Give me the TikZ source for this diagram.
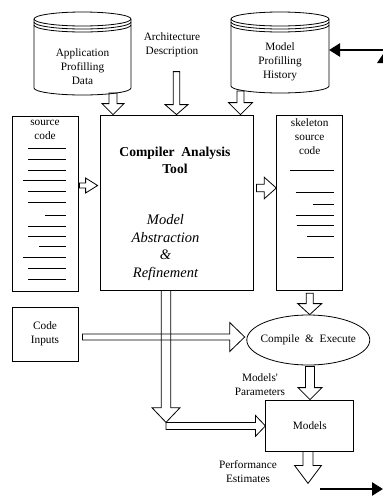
\documentclass[tikz,border=0pt]{standalone}
\usepackage{fontspec}
\setmainfont{Liberation Serif}
\usetikzlibrary{calc,positioning,shapes.geometric,arrows.meta}

\tikzset{
  box/.style={draw, line width=0.8pt, inner sep=0pt},
  txt/.style={font=\fontsize{11.3}{14}\selectfont, align=center, inner sep=0.75pt},
  codeline/.style={line width=0.8pt},
  blockarrow/.style={line width=0.8pt},
  fatarrow/.style={line width=2.5pt, -{Triangle[length=11pt,width=13pt]}},
}

% database drum round a text node: #1 node, #2 up to top, #3 down to bottom, #4 x radius
\newcommand{\dbshape}[4]{%
  \draw[line width=0.8pt] ($(#1.center)+(0,7-#2)$) ellipse [x radius=#4, y radius=7];
  \draw[line width=0.8pt] ($(#1.center)+(-#4,7-#2)$) -- ($(#1.center)+(-#4,#3-7)$)
    arc [start angle=180, end angle=0, x radius=#4, y radius=7]
    -- ($(#1.center)+(#4,7-#2)$);
  \foreach \k in {10,13}
    \draw[line width=0.8pt] ($(#1.center)+(#4,\k-#2)$) arc [start angle=0, end angle=180, x radius=#4, y radius=7];
}
% hollow block arrows: #1 from, #2 tip, #3 half shaft, #4 half head, #5 head length
\newcommand{\downblock}[5]{%
  \draw[blockarrow] ($(#1)+(-#3,0)$) |- ($(#2)+(-#4,-#5)$) -- (#2) -- ($(#2)+(#4,-#5)$) -| ($(#1)+(#3,0)$) -- cycle;
}
\newcommand{\rightblock}[5]{%
  \draw[blockarrow] ($(#1)+(0,-#3)$) -| ($(#2)+(-#5,-#4)$) -- (#2) -- ($(#2)+(-#5,#4)$) |- ($(#1)+(0,#3)$) -- cycle;
}

\begin{document}
\begin{tikzpicture}[x=1pt,y=1pt,yscale=-1]
  \useasboundingbox (0,0) rectangle (383,496);

  %Shape: Databases
  \node[txt] (appdb) at (82.5,67) {Application\\Profilling\\Data};
  \dbshape{appdb}{55}{28}{48.5}
  \node[txt] (histdb) at (280,62) {Model\\Profilling\\History};
  \dbshape{histdb}{50}{31}{49}
  % Text Node
  \node[txt] (archdesc) at (172,44.5) {Architecture\\Description};

  %Shape: Rectangles
  \node[box, minimum width=153pt, minimum height=175pt] (tool) at (176.5,202.5) {};
  \node[txt, font=\fontsize{13.6}{17}\selectfont\bfseries] (tooltitle) at (175,160.5) {Compiler~ Analysis\\Tool};
  \node[txt, font=\fontsize{14.5}{17.7}\selectfont\itshape] (toolnote) at (165.5,247.5) {Model\\Abstraction\\\&\\Refinement};

  \node[box, minimum width=66pt, minimum height=175pt] (srcbox) at (45,203.5) {};
  \node[txt, below=4pt of srcbox.north] (srctitle) {source\\code};
  \node[box, minimum width=66pt, minimum height=175pt] (skel) at (309.7,203.3) {};
  \node[txt, below=2pt of skel.north] (skeltitle) {skeleton\\source\\code};

  \node[box, txt, minimum width=66pt, minimum height=54pt] (codein) at (45,334) {Code\\Inputs};
  \node[box, txt, ellipse, minimum width=123pt, minimum height=50pt] (cexec) at (308.3,340) {\makebox[0pt]{Compile~~\&~~Execute}};
  \node[box, txt, minimum width=88pt, minimum height=51pt] (models) at (309.8,425.5) {Models};

  % Text Node
  \node[txt] (modparam) at (260,385) {Models\textquotesingle\\Parameters};
  \node[txt] (perfest) at (248,471.5) {Performance\\Estimates};

  %Straight Lines: code
  \foreach \ya/\xa in {148.3/28, 159.3/28, 170.3/28, 180.7/22.7, 191.7/28, 202.7/28, 215/45,
                       226/28, 236/28, 246.7/39, 257.7/22.7, 268.7/28, 279.3/28}
    \draw[codeline] (\xa,\ya) -- (66,\ya);
  \foreach \ya/\xa in {170/290, 192/295.7, 204/312.7, 215.3/295.7, 225.3/296.7, 236/307, 257.7/296.7}
    \draw[codeline] (\xa,\ya) -- (333.5,\ya);

  %Block arrows
  \coordinate (appout) at ($(appdb.center)+(30.5,26)$);
  \coordinate (appin) at (appout |- tool.north);
  \downblock{appout}{appin}{4}{11}{11}
  \coordinate (archout) at ($(tool.north)+(0,-43)$);
  \downblock{archout}{tool.north}{3.3}{11.5}{10}
  \coordinate (histout) at ($(histdb.center)+(-39.5,29)$);
  \coordinate (histin) at (histout |- tool.north);
  \downblock{histout}{histin}{3.5}{12}{12}

  \coordinate (srcout) at ($(srcbox.east)+(1,-18)$);
  \coordinate (srcin) at ($(tool.west)+(-2,-17)$);
  \rightblock{srcout}{srcin}{2.5}{7.5}{12}
  \coordinate (toolout) at ($(tool.east)+(3,-14.5)$);
  \coordinate (skelin) at (toolout -| skel.west);
  \rightblock{toolout}{skelin}{3.8}{10.7}{12}

  \coordinate (skelout) at ($(skel.south)+(0,2)$);
  \coordinate (cexecin) at (skelout |- cexec.north);
  \downblock{skelout}{cexecin}{3.5}{12}{11}

  \coordinate (codeout) at ($(codein.east)+(4,3)$);
  \coordinate (cexecleft) at ($(codeout -| cexec.west)+(-1.7,0)$);
  \rightblock{codeout}{cexecleft}{3}{14.5}{15}

  \coordinate (cexecout) at ($(cexec.south)+(1.7,1)$);
  \coordinate (modelsin) at (cexecout |- models.north);
  \downblock{cexecout}{modelsin}{4.5}{12}{12}

  \coordinate (tooldown) at ($(tool.south)+(-10.5,0)$);
  \coordinate (split) at ($(tooldown)+(0,132)$);
  \downblock{tooldown}{split}{4.8}{14}{14.7}
  \coordinate (splitout) at ($(split)+(0,3.5)$);
  \coordinate (modelsleft) at (splitout -| models.west);
  \rightblock{splitout}{modelsleft}{3.5}{10.5}{10}

  \coordinate (modelsout) at ($(models.south)+(-1.8,0)$);
  \coordinate (perfout) at ($(modelsout)+(0,32)$);
  \downblock{modelsout}{perfout}{5}{13.5}{18}

  %Black arrows
  \coordinate (feedback) at (383,50);
  \coordinate (histside) at ($(histdb.center)+(49,-12)$);
  \draw[fatarrow] (feedback) -- (histside);
  \fill (377,63) -- (383,54) -- (383,63) -- cycle;
  \coordinate (perfstart) at (320,489);
  \coordinate (perfend) at (383,489);
  \draw[fatarrow] (perfstart) -- (perfend);
\end{tikzpicture}
\end{document}
